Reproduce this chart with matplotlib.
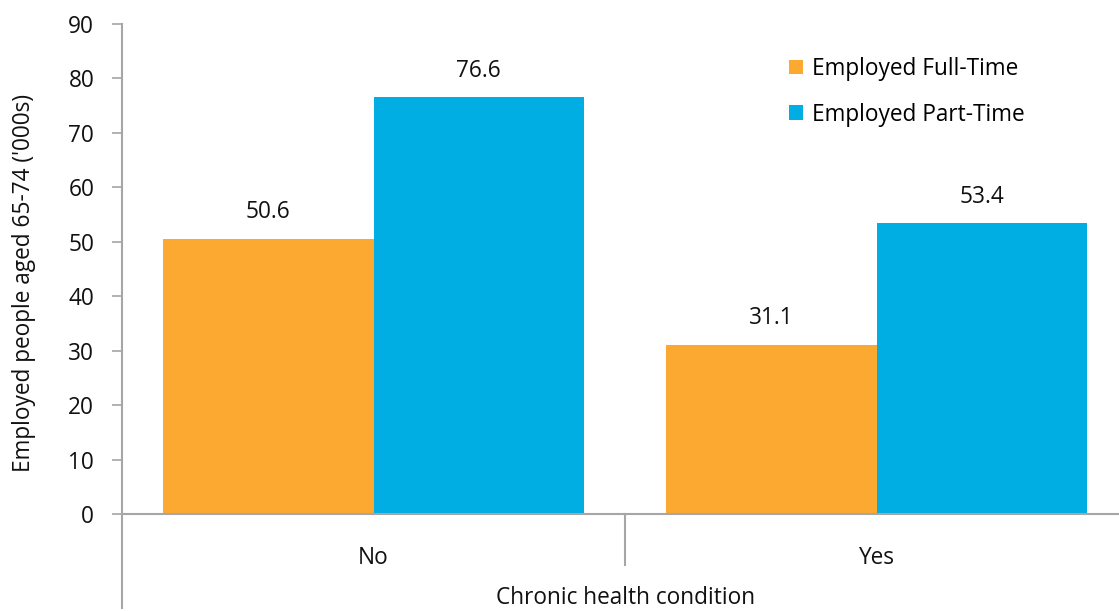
import matplotlib
matplotlib.use("Agg")
import matplotlib.pyplot as plt
import matplotlib.transforms as mtransforms
from matplotlib.patches import Patch

categories = ["No", "Yes"]
full_time = [50.6, 31.1]
part_time = [76.6, 53.4]
series_names = ["Employed Full-Time", "Employed Part-Time"]
y_ticks = [0, 10, 20, 30, 40, 50, 60, 70, 80, 90]

ORANGE = "#FBA931"
BLUE = "#00AEE3"
GRAY = "#A6A6A6"
FS = 16.3

plt.rcParams["font.family"] = ["Open Sans", "DejaVu Sans"]

W, H = 1119, 611
fig = plt.figure(figsize=(W / 100, H / 100), dpi=100)
ax = fig.add_axes([122 / W, 1 - 514 / H, (1128 - 122) / W, (514 - 24) / H])

x = list(range(len(categories)))
bw = 0.418
b1 = ax.bar([i - bw / 2 for i in x], full_time, width=bw, color=ORANGE, edgecolor="none")
b2 = ax.bar([i + bw / 2 for i in x], part_time, width=bw, color=BLUE, edgecolor="none")

for bars, vals in ((b1, full_time), (b2, part_time)):
    for r, v in zip(bars, vals):
        ax.annotate(f"{v:.1f}", (r.get_x() + r.get_width() / 2, v),
                    xytext=(0, 19), textcoords="offset points",
                    ha="center", va="center", fontsize=FS, color="#111111")

ax.set_xlim(-0.5, len(categories) - 0.5)
ax.set_ylim(0, 90)
ax.set_yticks(y_ticks)
ax.set_xticks(x)
ax.set_xticklabels(categories)
ax.tick_params(axis="x", length=0, pad=23, labelsize=FS, colors="#111111")
ax.tick_params(axis="y", length=7, width=1.2, color=GRAY, labelsize=FS, labelcolor="#111111", pad=13)

for s in ("top", "right"):
    ax.spines[s].set_visible(False)
for s in ("left", "bottom"):
    ax.spines[s].set_color(GRAY)
    ax.spines[s].set_linewidth(1.5)

trans = mtransforms.blended_transform_factory(ax.transData, ax.transAxes)
ax.plot([-0.5, -0.5], [0, -0.192], transform=trans, color=GRAY, lw=1.5, clip_on=False)
for b in range(1, len(categories)):
    ax.plot([b - 0.5, b - 0.5], [0, -0.104], transform=trans, color=GRAY, lw=1.5, clip_on=False)

ax.set_xlabel("Chronic health condition", fontsize=FS, color="#111111")
ax.set_ylabel("Employed people aged 65-74 ('000s)", fontsize=FS, color="#111111")
ax.yaxis.set_label_coords(-(122 - 24) / (1128 - 122), 0.5 - 14 / 490)
ax.xaxis.set_label_coords((626 - 122) / (1128 - 122), -(598 - 514) / 490)
ax.xaxis.label.set_va("center")
ax.yaxis.label.set_va("center")

handles = [Patch(facecolor=ORANGE), Patch(facecolor=BLUE)]
leg = ax.legend(handles, series_names, loc="upper left",
                bbox_to_anchor=((789 - 122) / (1128 - 122), 1 - (57 - 24) / 490),
                frameon=False, fontsize=FS, handlelength=0.6, handleheight=0.6,
                handletextpad=0.4, labelspacing=0.95, borderaxespad=0, borderpad=0)

fig.savefig("out.png", dpi=100, facecolor="white")
